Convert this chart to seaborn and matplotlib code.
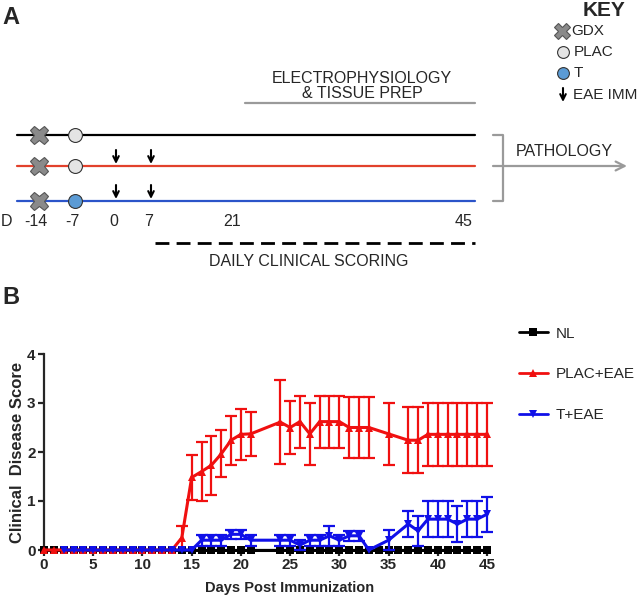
# EAE time course figure - panel A schematic, panel B clinical scores

import pandas as pd
import matplotlib
matplotlib.use('Agg')
import matplotlib.pyplot as plt
from matplotlib.lines import Line2D
import seaborn as sns

# ---- panel B data (mean clinical score and SEM) ----
nl_days = [0, 1, 2, 3, 4, 5, 6, 7, 8, 9, 10, 11, 12, 13, 14, 15, 16, 17, 18, 19, 20, 21,
           24, 25, 26, 27, 28, 29, 30, 31, 32, 33, 34, 35, 36, 37, 38, 39, 40, 41, 42, 43, 44, 45]
nl_score = [0, 0, 0, 0, 0, 0, 0, 0, 0, 0, 0, 0, 0, 0, 0, 0, 0, 0, 0, 0, 0, 0,
            0, 0, 0, 0, 0, 0, 0, 0, 0, 0, 0, 0, 0, 0, 0, 0, 0, 0, 0, 0, 0, 0]

plac_days = [0, 1, 2, 3, 4, 5, 6, 7, 8, 9, 10, 11, 12, 13, 14, 15, 16, 17, 18, 19, 20, 21,
             24, 25, 26, 27, 28, 29, 30, 31, 32, 33, 35, 37, 38, 39, 40, 41, 42, 43, 44, 45]
plac_score = [0, 0, 0, 0, 0, 0, 0, 0, 0, 0, 0, 0, 0, 0, 0.25, 1.48, 1.6, 1.73, 1.96, 2.24, 2.36, 2.37,
              2.61, 2.5, 2.62, 2.37, 2.62, 2.62, 2.62, 2.5, 2.5, 2.5, 2.37, 2.24, 2.24,
              2.36, 2.36, 2.36, 2.36, 2.36, 2.36, 2.36]
plac_sem = [0, 0, 0, 0, 0, 0, 0, 0, 0, 0, 0, 0, 0, 0, 0.25, 0.46, 0.6, 0.6, 0.48, 0.5, 0.52, 0.45,
            0.85, 0.55, 0.53, 0.64, 0.53, 0.53, 0.53, 0.62, 0.62, 0.62, 0.64, 0.67, 0.67,
            0.64, 0.64, 0.64, 0.64, 0.64, 0.64, 0.64]

t_days = [2, 3, 4, 5, 6, 7, 8, 9, 10, 11, 12, 13, 14, 15, 16, 17, 18, 19, 20, 21,
          24, 25, 26, 27, 28, 29, 30, 31, 32, 33, 35, 37, 38, 39, 40, 41, 42, 43, 44, 45]
t_score = [0, 0, 0, 0, 0, 0, 0, 0, 0, 0, 0, 0, 0, 0, 0.2, 0.2, 0.2, 0.32, 0.32, 0.2,
           0.2, 0.2, 0.1, 0.2, 0.2, 0.29, 0.2, 0.29, 0.29, 0, 0.2, 0.53, 0.39,
           0.63, 0.63, 0.63, 0.53, 0.63, 0.63, 0.73]
t_sem = [0, 0, 0, 0, 0, 0, 0, 0, 0, 0, 0, 0, 0, 0, 0.11, 0.11, 0.11, 0.09, 0.09, 0.11,
         0.11, 0.11, 0.1, 0.11, 0.11, 0.2, 0.11, 0.1, 0.1, 0, 0.2, 0.26, 0.31,
         0.37, 0.37, 0.37, 0.37, 0.37, 0.37, 0.36]

groups = ['NL', 'PLAC+EAE', 'T+EAE']
colors = {'NL': 'black', 'PLAC+EAE': '#f01010', 'T+EAE': '#1010e8'}
markers = {'NL': 's', 'PLAC+EAE': '^', 'T+EAE': 'v'}
msizes = {'NL': 5.3, 'PLAC+EAE': 6, 'T+EAE': 6}

# ---- panel A schematic text ----
timeline_labels = ['-14', '-7', '0', '7', '21', '45']
key_labels = ['GDX', 'PLAC', 'T', 'EAE IMM']

sns.set_style("ticks")
plt.rcParams['font.family'] = ['Liberation Sans', 'DejaVu Sans']

fig = plt.figure(figsize=(6.4, 5.97), dpi=100)

# canvas for schematic (pixel units, origin top-left)
cv = fig.add_axes([0, 0, 1, 1])
cv.set_xlim(0, 640)
cv.set_ylim(597, 0)
cv.axis('off')

cv.text(2, 17, 'A', fontsize=17, fontweight='bold', va='center', ha='left')
cv.text(2, 297, 'B', fontsize=17, fontweight='bold', va='center', ha='left')

row_y = [135, 166, 201]
row_col = ['black', '#e2412c', '#2b54c9']
for y, c in zip(row_y, row_col):
    cv.plot([17, 475], [y, y], color=c, lw=1.6, zorder=1)
for i, y in enumerate(row_y):
    cv.plot(39, y, marker='X', ms=13, color='#8a8a8a', mec='#555555', mew=0.8, zorder=3)
    fc = '#5b9bd5' if i == 2 else '#e4e4e4'
    cv.plot(75, y, marker='o', ms=10, color=fc, mec='#333333', mew=0.8, zorder=3)
    if i > 0:
        for x in [116, 151]:
            cv.annotate('', xy=(x, y - 2), xytext=(x, y - 16),
                        arrowprops=dict(arrowstyle='->', lw=1.5, color='black',
                                        shrinkA=0, shrinkB=0, mutation_scale=10))

tick_x = [36, 72, 114, 149, 232, 464]
cv.text(7, 221, 'D', fontsize=11.5, ha='center', va='center')
for lbl, x in zip(timeline_labels, tick_x):
    cv.text(x, 221, lbl, fontsize=11.5, ha='center', va='center')

# electrophysiology bar
cv.plot([245, 475], [103, 103], color='#9a9a9a', lw=1.6)
cv.text(362, 86, 'ELECTROPHYSIOLOGY\n& TISSUE PREP', fontsize=11.5, ha='center',
        va='center', linespacing=1.0)

# pathology bracket
cv.plot([493, 503, 503, 493], [135, 135, 201, 201], color='#9a9a9a', lw=1.6)
cv.plot([493, 503], [166, 166], color='#9a9a9a', lw=1.6)
cv.annotate('', xy=(627, 166), xytext=(503, 166),
            arrowprops=dict(arrowstyle='->', lw=1.6, color='#9a9a9a',
                            shrinkA=0, shrinkB=0, mutation_scale=16))
cv.text(516, 152, 'PATHOLOGY', fontsize=11.5, ha='left', va='center')

# daily scoring
cv.plot([155, 475], [243, 243], color='black', lw=2, dashes=(5, 2.6))
cv.text(309, 262, 'DAILY CLINICAL SCORING', fontsize=11.5, ha='center', va='center')

# key
cv.text(604, 10, 'KEY', fontsize=15, fontweight='bold', ha='center', va='center')
cv.plot(562, 31, marker='X', ms=11, color='#8a8a8a', mec='#555555', mew=0.8)
cv.plot(563, 52, marker='o', ms=8.5, color='#e4e4e4', mec='#333333', mew=0.8)
cv.plot(563, 73, marker='o', ms=8.5, color='#5b9bd5', mec='#333333', mew=0.8)
cv.annotate('', xy=(563, 102), xytext=(563, 88),
            arrowprops=dict(arrowstyle='->', lw=1.5, color='black',
                            shrinkA=0, shrinkB=0, mutation_scale=10))
for lbl, x, y in zip(key_labels, [571, 574, 574, 573], [31, 52, 73, 95]):
    cv.text(x, y, lbl, fontsize=11, ha='left', va='center')

# ---- panel B ----
ax = fig.add_axes([44 / 640, 1 - 550 / 597, (487 - 44) / 640, (550 - 354) / 597])

df = pd.concat([
    pd.DataFrame({'day': nl_days, 'score': nl_score, 'group': 'NL'}),
    pd.DataFrame({'day': plac_days, 'score': plac_score, 'group': 'PLAC+EAE'}),
    pd.DataFrame({'day': t_days, 'score': t_score, 'group': 'T+EAE'}),
])

# error bars (only where SEM > 0)
for days, score, sem, g in [(plac_days, plac_score, plac_sem, 'PLAC+EAE'),
                            (t_days, t_score, t_sem, 'T+EAE')]:
    sel = [i for i, s in enumerate(sem) if s > 0]
    ax.errorbar([days[i] for i in sel], [score[i] for i in sel],
                yerr=[sem[i] for i in sel], fmt='none', ecolor=colors[g],
                elinewidth=1.6, capsize=4, capthick=1.6, clip_on=False,
                zorder=2 if g == 'PLAC+EAE' else 4)

n_before = len(ax.lines)
sns.lineplot(data=df, x='day', y='score', hue='group', style='group',
             hue_order=groups, style_order=groups, palette=colors, markers=markers,
             dashes=False, errorbar=None, lw=2.2, markersize=6, markeredgewidth=0,
             legend=False, ax=ax)
for i, line in enumerate(ax.lines[n_before:]):
    line.set_clip_on(False)
    line.set_zorder(3 + 2 * i)
    line.set_markersize(msizes[groups[i]])

ax.set_xlim(0, 45)
ax.set_ylim(0, 4)
ax.set_xticks([0, 5, 10, 15, 20, 25, 30, 35, 40, 45])
ax.set_yticks([0, 1, 2, 3, 4])
ax.tick_params(labelsize=11, width=1.6, length=4, pad=2)
for lbl in ax.get_xticklabels() + ax.get_yticklabels():
    lbl.set_fontweight('bold')
for s in ['left', 'bottom']:
    ax.spines[s].set_linewidth(1.6)
sns.despine(ax=ax)
ax.set_xlabel('Days Post Immunization', fontsize=10.5, fontweight='bold')
ax.xaxis.set_label_coords(0.555, -0.16)
ax.set_ylabel('Clinical  Disease Score', fontsize=12, fontweight='bold')
ax.yaxis.set_label_coords(-0.043, 0.5)

handles = [Line2D([], [], color=colors[g], marker=markers[g], lw=2, ms=msizes[g], mew=0)
           for g in groups]
fig.legend(handles, groups, loc='upper left', bbox_to_anchor=(505 / 640, 1 - 313 / 597),
           frameon=False, fontsize=11, labelspacing=1.75, handlelength=1.9,
           handletextpad=0.5)

plt.savefig('out.png', dpi=100)
